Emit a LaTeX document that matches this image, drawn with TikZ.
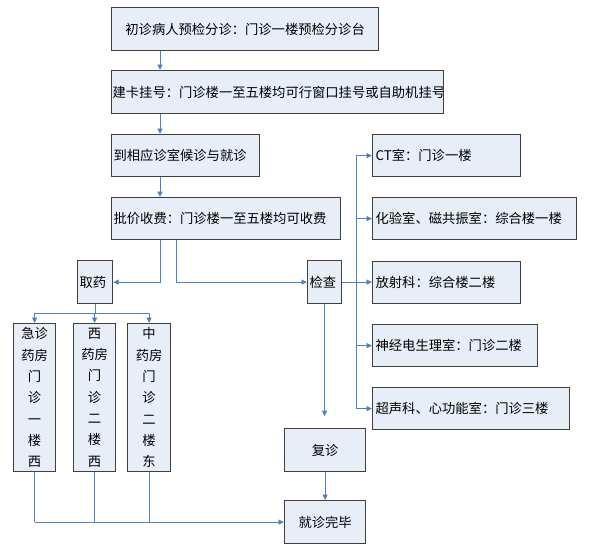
\documentclass[tikz,border=0pt]{standalone}
\usepackage{fontspec}
\newfontfamily\cjk{Noto Sans CJK SC}
\usepackage{tikz}
\usetikzlibrary{arrows.meta,positioning,calc}
\definecolor{boxfill}{HTML}{E8EEF8}
\definecolor{boxline}{HTML}{404040}
\definecolor{flowc}{HTML}{4F81BD}

\tikzset{
  box/.style={draw=boxline, fill=boxfill, line width=1.2pt, anchor=north west,
    inner xsep=2pt, inner ysep=0pt, align=left,
    font=\cjk\fontsize{13.3}{16}\selectfont},
  tallbox/.style={box, align=center, inner xsep=0pt,
    font=\cjk\fontsize{13.3}{21.3}\selectfont},
  flow/.style={flowc, line width=0.9pt},
  arr/.style={flow, -{Triangle[length=5.5pt,width=5pt]}}
}

\begin{document}
\begin{tikzpicture}[x=1pt, y=-1pt]
  \useasboundingbox (0,0) rectangle (599,549);
  % main chain
  \node[box, align=center, text width=263, minimum height=43] (pre) at (111,7) {初诊病人预检分诊：门诊一楼预检分诊台};
  \node[box, inner xsep=1pt, text width=330, minimum height=43] (reg) at (111,70) {建卡挂号：门诊楼一至五楼均可行窗口挂号或自助机挂号};
  \node[box, text width=144, minimum height=42] (wait) at (111,134) {到相应诊室候诊与就诊};
  \node[box, text width=225, minimum height=42] (pay) at (111,197) {批价收费：门诊楼一至五楼均可收费};
  \node[box, text width=31, minimum height=43] (drug) at (77,260) {取药};
  \node[box, text width=30, minimum height=43] (exam) at (307,260) {检查};
  % examination rooms
  \node[box, inner xsep=3pt, text width=142, minimum height=42] (ct) at (372,134) {CT室：门诊一楼};
  \node[box, inner xsep=3pt, text width=198, minimum height=42] (lab) at (372,197) {化验室、磁共振室：综合楼一楼};
  \node[box, inner xsep=3pt, text width=142, minimum height=42] (rad) at (372,260.5) {放射科：综合楼二楼};
  \node[box, inner xsep=3pt, text width=159, minimum height=42] (neu) at (372,324) {神经电生理室：门诊二楼};
  \node[box, inner xsep=3pt, text width=191, minimum height=42] (ult) at (372,387) {超声科、心功能室：门诊三楼};
  % revisit and finish
  \node[box, align=center, text width=77, minimum height=43] (revisit) at (284,428) {复诊};
  \node[box, align=center, text width=77, minimum height=43] (done) at (284,500) {就诊完毕};
  % pharmacies
  \node[tallbox, text width=42, minimum height=148] (emph) at (13,323) {急诊\\药房\\门\\诊\\一\\楼\\西};
  \node[tallbox, text width=42, minimum height=148] (wph) at (73,323) {西\\药房\\门\\诊\\二\\楼\\西};
  \node[tallbox, text width=43, minimum height=148] (cph) at (127,323) {中\\药房\\门\\诊\\二\\楼\\东};

  \coordinate (spine) at (160,0);
  \coordinate (split) at (176,0);
  \coordinate (bus) at (356,0);
  \coordinate (fork) at (0,313);
  \path (exam.south) ++(0,112) coordinate (examend);

  \draw[arr] (spine |- pre.south) -- (spine |- reg.north);
  \draw[arr] (spine |- reg.south) -- (spine |- wait.north);
  \draw[arr] (spine |- wait.south) -- (spine |- pay.north);
  \draw[arr] (spine |- pay.south) -- (spine |- drug.east) -- (drug.east);
  \draw[arr] (split |- pay.south) -- (split |- exam.west) -- (exam.west);
  % examination rooms
  \draw[flow] (bus |- ct.west) -- (bus |- ult.west);
  \foreach \room in {ct,lab,neu,ult}
    \draw[arr] (bus |- \room.west) -- (\room.west);
  \draw[arr] (exam.east) -- (rad.west);
  \draw[arr] (exam.south) -- (examend);
  \draw[arr] (revisit.south) -- (done.north);
  % pharmacies
  \draw[flow] (drug.south) -- (drug.south |- fork);
  \draw[flow] (emph.north |- fork) -- (cph.north |- fork);
  \foreach \ph in {emph,wph,cph}
    \draw[arr] (\ph.north |- fork) -- (\ph.north);
  \foreach \ph in {emph,wph,cph}
    \draw[flow] (\ph.south) -- (\ph.south |- done.west);
  \draw[arr] (emph.south |- done.west) -- (done.west);
\end{tikzpicture}
\end{document}
